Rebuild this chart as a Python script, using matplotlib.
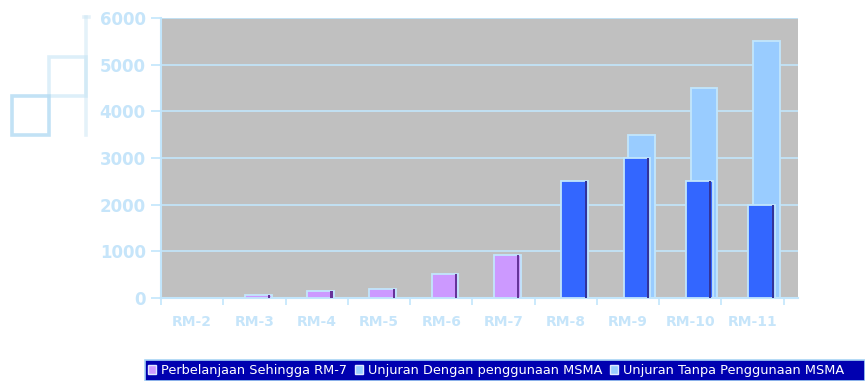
import numpy as np
import matplotlib
matplotlib.use("Agg")
import matplotlib.pyplot as plt
from matplotlib.patches import Rectangle, Patch
from matplotlib.lines import Line2D

categories = ["RM-2", "RM-3", "RM-4", "RM-5", "RM-6", "RM-7",
              "RM-8", "RM-9", "RM-10", "RM-11"]
nan = np.nan
perbelanjaan = [5, 60, 150, 190, 510, 930, nan, nan, nan, nan]
dengan_msma = [nan, nan, nan, nan, nan, nan, 2500, 3000, 2500, 2000]
tanpa_msma = [nan, nan, nan, nan, nan, nan, nan, 3500, 4500, 5500]
series_names = ["Perbelanjaan Sehingga RM-7",
                "Unjuran Dengan penggunaan MSMA",
                "Unjuran Tanpa Penggunaan MSMA"]
yticks = [0, 1000, 2000, 3000, 4000, 5000, 6000]

PURPLE, PURPLE_DK = "#CC99FF", "#663399"
BLUE, BLUE_DK = "#3366FF", "#333399"
LIGHT = "#99CCFF"
EDGE = "#C2E6FC"
TXT = "#C6E5FA"
W, H = 865, 381

fig = plt.figure(figsize=(W / 100, H / 100), dpi=100)
ax = fig.add_axes([161 / W, 83 / H, 637 / W, 280 / H])
ax.set_facecolor("#C0C0C0")

x = np.arange(len(categories))
bw = 0.43
stripe = 0.035


def draw(vals, off, face, dark, z):
    ax.bar(x + off, vals, width=bw, color=face, edgecolor=EDGE, linewidth=1.3, zorder=z)
    if dark:
        ax.bar(x + off + bw / 2 - stripe / 2 - 0.02, vals, width=stripe, color=dark,
               linewidth=0, zorder=z + 0.1)


draw(tanpa_msma, 0.22, LIGHT, None, 2)
draw(dengan_msma, 0.145, BLUE, BLUE_DK, 3)
draw(perbelanjaan, 0.06, PURPLE, PURPLE_DK, 4)

ax.set_ylim(0, 6000)
ax.set_xlim(-0.5, 9.73)
ax.set_yticks(yticks)
ax.set_yticklabels([str(v) for v in yticks])
ax.yaxis.grid(True, color=EDGE, linewidth=1.2)
ax.set_axisbelow(True)

ax.set_xticks(x)
ax.set_xticklabels(categories)
ax.set_xticks(np.arange(-0.5, 10, 1), minor=True)
ax.tick_params(axis="x", which="major", length=0, pad=12)
ax.tick_params(axis="x", which="minor", length=5, color=EDGE, width=1.2)
ax.tick_params(axis="y", length=7, color=EDGE, width=1.2, pad=4)
for lab in ax.get_xticklabels():
    lab.set_fontsize(10)
    lab.set_fontweight("bold")
    lab.set_color(TXT)
for lab in ax.get_yticklabels():
    lab.set_fontsize(12)
    lab.set_fontweight("bold")
    lab.set_color(TXT)

for side in ["top", "right"]:
    ax.spines[side].set_visible(False)
ax.spines["left"].set_color(EDGE)
ax.spines["left"].set_linewidth(1.5)
ax.spines["bottom"].set_color(EDGE)
ax.spines["bottom"].set_linewidth(1.5)


# decorative squares top-left
def px_rect(x0, y0, x1, y1, color, alpha):
    r = Rectangle((x0 / W, 1 - y1 / H), (x1 - x0) / W, (y1 - y0) / H,
                  transform=fig.transFigure, fill=False, edgecolor=color,
                  linewidth=2.6, alpha=alpha)
    fig.add_artist(r)


px_rect(12, 96, 49, 135, "#A9D6F2", 0.7)
px_rect(49, 57, 86, 96, "#B5DCF2", 0.45)
fig.add_artist(Line2D([86 / W, 86 / W], [1 - 17 / H, 1 - 135 / H],
                      transform=fig.transFigure, color="#CBE6F5", linewidth=2.6, alpha=0.5))
fig.add_artist(Line2D([84 / W, 89 / W], [1 - 17 / H, 1 - 17 / H],
                      transform=fig.transFigure, color="#CBE6F5", linewidth=2.6, alpha=0.5))

# legend bar at bottom
fig.add_artist(Rectangle((145 / W, 0), 720 / W, 21 / H, transform=fig.transFigure,
                         facecolor="#0000B0", edgecolor="#A8D4F5", linewidth=1.2))
handles = [Patch(facecolor=PURPLE, edgecolor="#E0E8FF"),
           Patch(facecolor=LIGHT, edgecolor="#E0E8FF"),
           Patch(facecolor=LIGHT, edgecolor="#E0E8FF")]
leg = fig.legend(handles, series_names, ncol=3, loc="center left",
                 bbox_to_anchor=(148 / W, 10.5 / H),
                 fontsize=9.3, frameon=False, borderaxespad=0,
                 handlelength=0.65, handleheight=0.65, handletextpad=0.35,
                 columnspacing=0.6, borderpad=0)
for t in leg.get_texts():
    t.set_color("white")

fig.savefig("out.png", dpi=100)
